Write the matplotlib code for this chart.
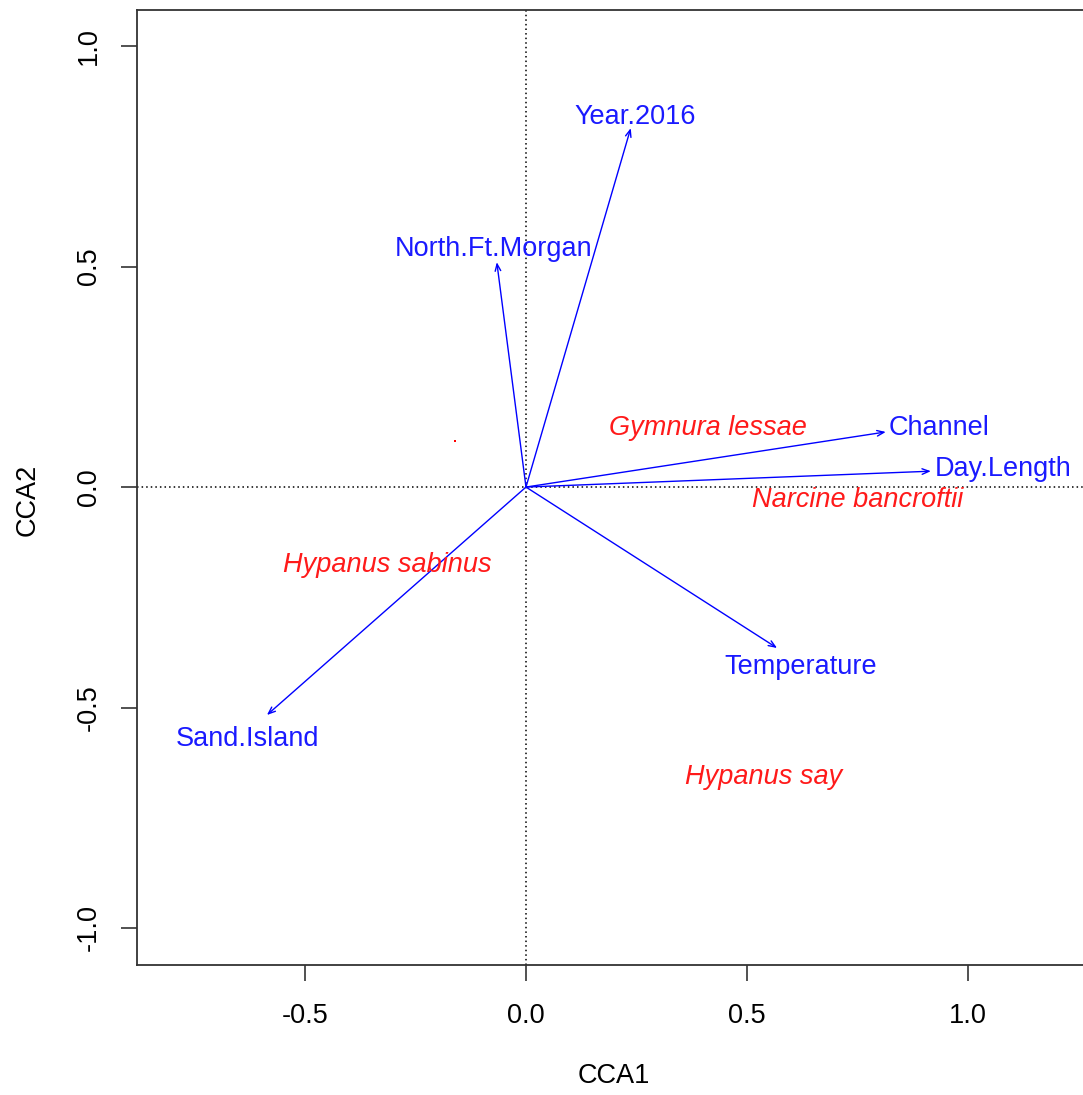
import matplotlib
matplotlib.use("Agg")
import matplotlib.pyplot as plt

# biplot arrows for the environmental variables (CCA1, CCA2)
env_names = ["Year.2016", "North.Ft.Morgan", "Channel", "Day.Length", "Temperature", "Sand.Island"]
env_cca1 = [0.237, -0.066, 0.814, 0.916, 0.568, -0.586]
env_cca2 = [0.814, 0.510, 0.125, 0.036, -0.365, -0.517]
# where each arrow label sits
env_lab_cca1 = [0.246, -0.074, 0.934, 1.080, 0.622, -0.630]
env_lab_cca2 = [0.839, 0.541, 0.133, 0.040, -0.409, -0.572]

# species scores
sp_names = ["Gymnura lessae", "Narcine bancroftii", "Hypanus sabinus", "Hypanus say"]
sp_cca1 = [0.412, 0.751, -0.314, 0.538]
sp_cca2 = [0.133, -0.030, -0.177, -0.658]
# one site score drawn as a bare point
pt_cca1 = [-0.161]
pt_cca2 = [0.104]

x_ticks = [-0.5, 0.0, 0.5, 1.0]
y_ticks = [-1.0, -0.5, 0.0, 0.5, 1.0]

plt.rcParams["font.family"] = ["Liberation Sans", "DejaVu Sans"]
FS = 19.5

W, H = 1083, 1095
fig = plt.figure(figsize=(W / 100, H / 100), dpi=100)
ax = fig.add_axes([137 / W, 1 - 965 / H, (1090 - 137) / W, (965 - 10) / H])
ax.set_xlim(-0.880, 1.276)
ax.set_ylim(-1.084, 1.082)

ax.axhline(0, color="black", linestyle=(0, (1, 2)), linewidth=1.1, zorder=1)
ax.axvline(0, color="black", linestyle=(0, (1, 2)), linewidth=1.1, zorder=1)

for x, y in zip(env_cca1, env_cca2):
    ax.annotate(
        "", xy=(x, y), xytext=(0, 0),
        arrowprops=dict(arrowstyle="->,head_length=0.5,head_width=0.2",
                        color="#0000ff", linewidth=1.0, shrinkA=0, shrinkB=0),
        zorder=2,
    )
for name, x, y in zip(env_names, env_lab_cca1, env_lab_cca2):
    ax.text(x, y, name, color="#1a1aff", fontsize=FS, ha="center", va="center", zorder=3)

for name, x, y in zip(sp_names, sp_cca1, sp_cca2):
    ax.text(x, y, name, color="#ff1a1a", fontsize=FS, style="italic",
            ha="center", va="center", zorder=3)
ax.plot(pt_cca1, pt_cca2, linestyle="none", marker="s", markersize=1.5,
        color="red", markeredgewidth=0)

ax.set_xticks(x_ticks)
ax.set_xticklabels([f"{v:.1f}" for v in x_ticks])
ax.set_yticks(y_ticks)
ax.set_yticklabels([f"{v:.1f}" for v in y_ticks], rotation=90, va="center")
ax.tick_params(axis="both", labelsize=FS, length=11.5, width=1.1, color="#222222")
ax.tick_params(axis="x", pad=16)
ax.tick_params(axis="y", pad=14)

for sp in ax.spines.values():
    sp.set_linewidth(1.3)
    sp.set_color("#333333")

ax.set_xlabel("CCA1", fontsize=FS, labelpad=24)
ax.set_ylabel("CCA2", fontsize=FS)
ax.yaxis.set_label_coords(-0.101, 0.487)

fig.savefig("out.png", dpi=100)
